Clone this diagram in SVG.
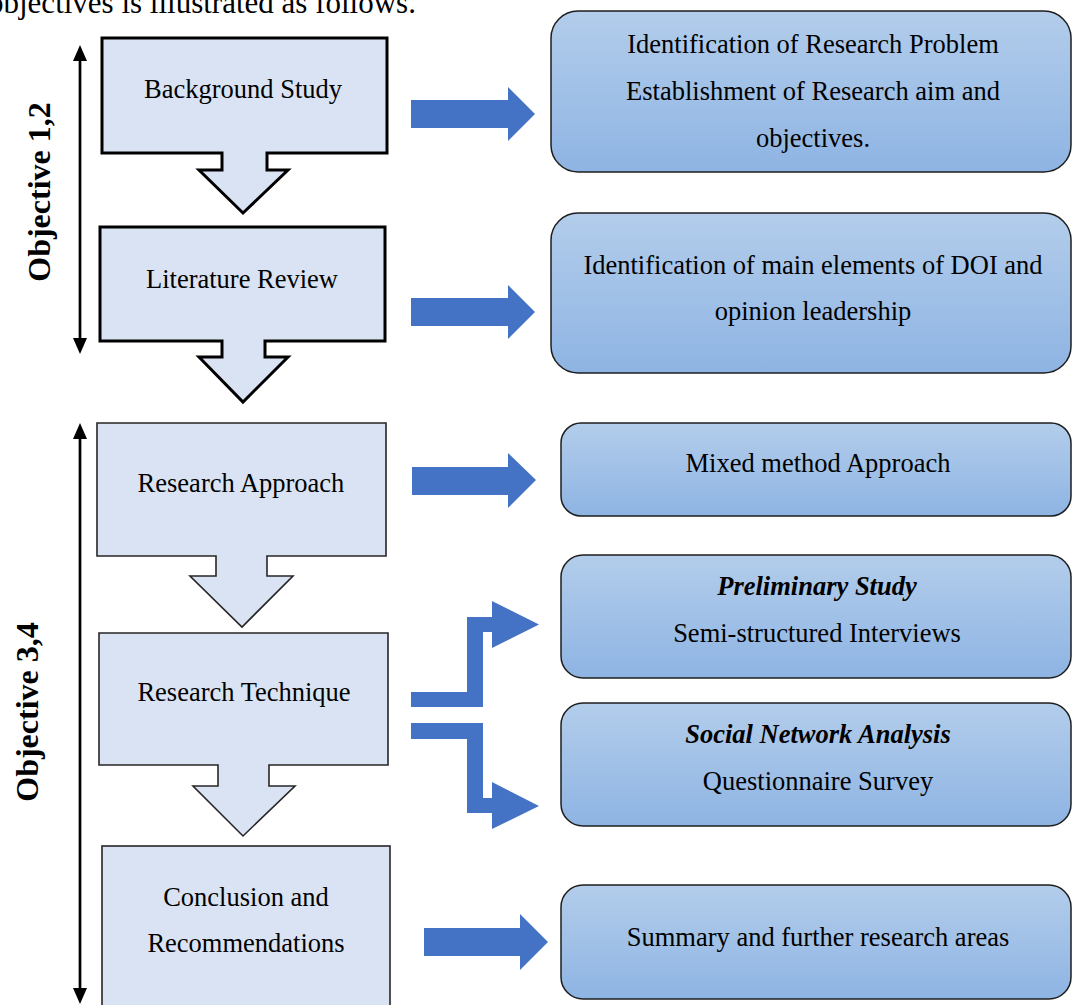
<svg xmlns="http://www.w3.org/2000/svg" width="1072" height="1005" viewBox="0 0 1072 1005">
  <style>
    text { font-family: "Liberation Serif", "Times New Roman", serif; fill: #000; }
    .lbl { font-size: 26.5px; text-anchor: middle; }
    .bi { font-weight: bold; font-style: italic; }
    .obj { font-size: 32px; font-weight: bold; text-anchor: middle; }
    .lbox { fill: #dae3f3; stroke-linejoin: miter; }
    .thick { stroke: #000; stroke-width: 3; }
    .thin { stroke: #262626; stroke-width: 1.6; }
    .rbox { fill: url(#blueGrad); stroke: #1e1e1e; stroke-width: 1.5; }
    .blue { fill: #4472c4; }
    .vline { stroke: #000; stroke-width: 2.7; fill: none; marker-start: url(#ah); marker-end: url(#ah); }
  </style>
  <defs>
    <linearGradient id="blueGrad" x1="0" y1="0" x2="0" y2="1">
      <stop offset="0" stop-color="#b3cdeb"/>
      <stop offset="1" stop-color="#8eb4e3"/>
    </linearGradient>
    <marker id="ah" markerUnits="userSpaceOnUse" markerWidth="16" markerHeight="14" refX="2" refY="7" orient="auto-start-reverse" viewBox="0 0 16 14">
      <path d="M0,0 L16,7 L0,14 Z" fill="#000"/>
    </marker>
  </defs>

  <text x="-12" y="12.5" style="font-size:31px">objectives is illustrated as follows.</text>

  <g id="node-background-study">
    <path class="lbox thick" d="M102,38 H387 V153 H267 V170 H288 L243,213 L199,170 H222 V153 H102 Z"/>
    <text class="lbl" x="243" y="98">Background Study</text>
  </g>
  <g id="node-literature-review">
    <path class="lbox thick" d="M100,227 H385 V341 H265 V357 H288 L243,402 L199,357 H222 V341 H100 Z"/>
    <text class="lbl" x="242" y="288">Literature Review</text>
  </g>
  <g id="node-research-approach">
    <path class="lbox thin" d="M97,423 H386 V556 H267 V576 H293 L242,627 L190,576 H216 V556 H97 Z"/>
    <text class="lbl" x="241" y="492">Research Approach</text>
  </g>
  <g id="node-research-technique">
    <path class="lbox thin" d="M99,633 H388 V765 H269 V786 H295 L243,836 L193,786 H218 V765 H99 Z"/>
    <text class="lbl" x="244" y="701">Research Technique</text>
  </g>
  <g id="node-conclusion">
    <rect class="lbox thin" x="102" y="846" width="288" height="170"/>
    <text class="lbl" x="246" y="906">Conclusion and</text>
    <text class="lbl" x="246" y="952">Recommendations</text>
  </g>

  <g id="node-objective-12">
    <text class="obj" transform="translate(50,192) rotate(-90)">Objective 1,2</text>
  </g>
  <g id="node-objective-34">
    <text class="obj" transform="translate(38,712) rotate(-90)">Objective 3,4</text>
  </g>

  <g id="node-research-problem">
    <rect class="rbox" x="551" y="11" width="520" height="161" rx="27" ry="27"/>
    <text class="lbl" x="813" y="53">Identification of Research Problem</text>
    <text class="lbl" x="813" y="100">Establishment of Research aim and</text>
    <text class="lbl" x="813" y="147">objectives.</text>
  </g>
  <g id="node-doi">
    <rect class="rbox" x="551" y="213" width="520" height="160" rx="27" ry="27"/>
    <text class="lbl" x="813" y="274">Identification of main elements of DOI and</text>
    <text class="lbl" x="813" y="320">opinion leadership</text>
  </g>
  <g id="node-mixed">
    <rect class="rbox" x="561" y="423" width="510" height="93" rx="20" ry="20"/>
    <text class="lbl" x="818" y="472">Mixed method Approach</text>
  </g>
  <g id="node-preliminary">
    <rect class="rbox" x="561" y="555" width="510" height="123" rx="22" ry="22"/>
    <text class="lbl bi" x="817" y="595">Preliminary Study</text>
    <text class="lbl" x="817" y="642">Semi-structured Interviews</text>
  </g>
  <g id="node-sna">
    <rect class="rbox" x="561" y="703" width="510" height="123" rx="22" ry="22"/>
    <text class="lbl bi" x="818" y="743">Social Network Analysis</text>
    <text class="lbl" x="818" y="790">Questionnaire Survey</text>
  </g>
  <g id="node-summary">
    <rect class="rbox" x="561" y="885" width="510" height="114" rx="22" ry="22"/>
    <text class="lbl" x="818" y="946">Summary and further research areas</text>
  </g>

  <g id="connectors">
    <line class="vline" x1="80" y1="59" x2="80" y2="340"/>
    <line class="vline" x1="80" y1="437" x2="80" y2="990"/>
    <polygon class="blue" points="411,100 508,100 508,87 535,114 508,141 508,128 411,128"/>
    <polygon class="blue" points="411,298 508,298 508,285 535,312 508,339 508,326 411,326"/>
    <polygon class="blue" points="412,467 508,467 508,453 536,480 508,508 508,495 412,495"/>
    <polygon class="blue" points="411,692 467,692 467,617 492,617 492,601 539,624.5 492,648 492,632 483,632 483,707 411,707"/>
    <polygon class="blue" points="411,723 483,723 483,798 492,798 492,782 539,806 492,829 492,813 467,813 467,739 411,739"/>
    <polygon class="blue" points="424,928 520,928 520,914 548,942 520,970 520,956 424,956"/>
  </g>
</svg>
